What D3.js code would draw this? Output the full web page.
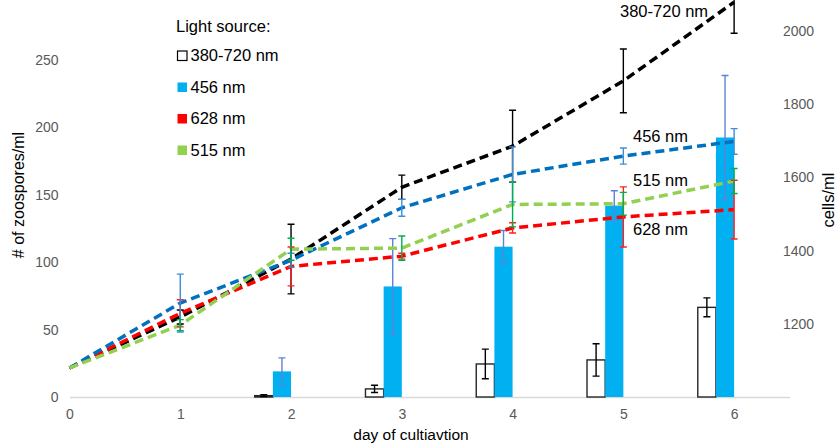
<!DOCTYPE html>
<html>
<head>
<meta charset="utf-8">
<script src="https://cdn.jsdelivr.net/npm/d3@7"></script>
<style>
  html, body { margin: 0; padding: 0; background: #fff; }
  svg { display: block; font-family: "Liberation Sans", Arial, sans-serif; }
</style>
</head>
<body>
<svg id="chart" width="838" height="444"></svg>
<script>
// ---------- data ----------
const days = [0, 1, 2, 3, 4, 5, 6];
const seriesNames = ["380-720 nm", "456 nm", "628 nm", "515 nm"];

// cells/ml (right axis), dashed lines
const cellsBroad   = [1080, 1219, 1377, 1573, 1685, 1863, 2078];
const cellsBroadErr= [null, 19, 95, 33, 98, 87, 85];
const cells456     = [1080, 1257, 1374, 1517, 1608, 1658, 1698];
const cells456Err  = [null, 79, 19, 23, 75, 22, 35];
const cells628     = [1080, 1229, 1357, 1385, 1462, 1492, 1512];
const cells628Err  = [null, 37, 53, 8, 14, 82, 80];
const cells515     = [1080, 1197, 1404, 1407, 1526, 1528, 1590];
const cells515Err  = [null, 15, 30, 33, 61, 31, 34];

// # of zoospores/ml (left axis), bars
const zooBroad     = [null, null, 1, 6, 24.5, 27.5, 66.5];
const zooBroadErr  = [null, null, 0.7, 2.7, 11, 12, 7];
const zoo456       = [null, null, 19, 82, 111.5, 142, 192.5];
const zoo456Err    = [null, null, 10, 35.5, 12, 11, 46];

const leftTicks  = [0, 50, 100, 150, 200, 250];
const rightTicks = [1200, 1400, 1600, 1800, 2000];

// ---------- layout ----------
const svg = d3.select("#chart");
const x  = d3.scaleLinear().domain([0, 6.5]).range([69.5, 789.5]);
const yL = d3.scaleLinear().domain([0, 250]).range([397, 60]);
const yR = d3.scaleLinear().domain([1000, 2000]).range([397.3, 30.7]);
const barW = x(0.164) - x(0);
const capW = 3.5;
const fmt = d3.format("d");

// axes
const gL = svg.append("g").attr("transform", `translate(${x(0)},0)`)
  .call(d3.axisLeft(yL).tickValues(leftTicks).tickFormat(fmt).tickSize(0).tickPadding(11));
const gR = svg.append("g").attr("transform", `translate(783,0)`)
  .call(d3.axisRight(yR).tickValues(rightTicks).tickFormat(fmt).tickSize(0).tickPadding(0));
const gB = svg.append("g").attr("transform", `translate(0,${yL(0)})`)
  .call(d3.axisBottom(x).tickValues(days).tickFormat(fmt).tickSize(0).tickPadding(12));
[gL, gR].forEach(g => g.select(".domain").remove());
gB.select(".domain").attr("stroke", "#d9d9d9").attr("stroke-width", 1.5);
[gL, gR, gB].forEach(g => g.selectAll("text")
  .attr("fill", "#595959").style("font-size", "14px")
  .style("font-family", "'Liberation Sans', Arial, sans-serif"));

// axis titles
svg.append("text").attr("transform", `translate(24,195) rotate(-90)`)
  .attr("text-anchor", "middle").style("font-size", "16px").attr("fill", "#000")
  .text("# of zoospores/ml");
svg.append("text").attr("transform", `translate(834,200) rotate(-90)`)
  .attr("text-anchor", "middle").style("font-size", "16.5px").attr("fill", "#000")
  .text("cells/ml");
svg.append("text").attr("x", 411).attr("y", 440)
  .attr("text-anchor", "middle").style("font-size", "15.5px").attr("fill", "#000")
  .text("day of cultiavtion");

// ---------- bars ----------
const bars = [
  { vals: zooBroad, errs: zooBroadErr, off: -2, fill: "#fff", stroke: "#262626", ecol: "#000" },
  { vals: zoo456,   errs: zoo456Err,   off: -1, fill: "#00b0f0", stroke: "none", ecol: "#5b83d6" }
];
bars.forEach(b => {
  const data = days.map((d, i) => ({ d, v: b.vals[i], e: b.errs[i] })).filter(o => o.v != null);
  svg.append("g").selectAll("rect").data(data).join("rect")
    .attr("x", o => x(o.d) + b.off * barW)
    .attr("width", barW)
    .attr("y", o => yL(o.v))
    .attr("height", o => yL(0) - yL(o.v))
    .attr("fill", b.fill)
    .attr("stroke", b.stroke)
    .attr("stroke-width", 1.4);
  const eg = svg.append("g").attr("stroke", b.ecol).attr("stroke-width", 1.4).attr("fill", "none");
  data.forEach(o => {
    const cx = x(o.d) + (b.off + 0.5) * barW;
    const y1 = yL(o.v + o.e), y2 = yL(o.v - o.e);
    eg.append("path").attr("d",
      `M${cx},${y1}V${y2}M${cx - capW},${y1}H${cx + capW}M${cx - capW},${y2}H${cx + capW}`);
  });
});

// ---------- lines ----------
const lines = [
  { vals: cellsBroad, errs: cellsBroadErr, col: "#000000", ecol: "#000000" },
  { vals: cells628,   errs: cells628Err,   col: "#ff0000", ecol: "#ff2020" },
  { vals: cells456,   errs: cells456Err,   col: "#0070c0", ecol: "#3d8ed6" },
  { vals: cells515,   errs: cells515Err,   col: "#92d050", ecol: "#00b050" }
];
const lineGen = d3.line().x(o => x(o.d)).y(o => yR(o.v));
lines.forEach(l => {
  const data = days.map((d, i) => ({ d, v: l.vals[i], e: l.errs[i] }));
  svg.append("path").datum(data)
    .attr("d", lineGen)
    .attr("fill", "none")
    .attr("stroke", l.col)
    .attr("stroke-width", 3.5)
    .attr("stroke-dasharray", "9,5");
});
lines.forEach(l => {
  const eg = svg.append("g").attr("stroke", l.ecol).attr("stroke-width", 1.4).attr("fill", "none");
  days.forEach((d, i) => {
    if (l.errs[i] == null) return;
    const cx = x(d);
    const y1 = yR(l.vals[i] + l.errs[i]), y2 = yR(l.vals[i] - l.errs[i]);
    eg.append("path").attr("d",
      `M${cx},${y1}V${y2}M${cx - capW},${y1}H${cx + capW}M${cx - capW},${y2}H${cx + capW}`);
  });
});

// ---------- line labels ----------
const lineLabels = [
  { t: seriesNames[0], x: 620, y: 17 },
  { t: seriesNames[1], x: 633, y: 142 },
  { t: seriesNames[3], x: 633, y: 186 },
  { t: seriesNames[2], x: 633, y: 235 }
];
svg.append("g").selectAll("text").data(lineLabels).join("text")
  .attr("x", o => o.x).attr("y", o => o.y)
  .style("font-size", "16.5px").attr("fill", "#000")
  .text(o => o.t);

// ---------- legend ----------
const lg = svg.append("g");
lg.append("text").attr("x", 176).attr("y", 32).style("font-size", "16.5px").text("Light source:");
const legendItems = [
  { t: seriesNames[0], fill: "#fff", stroke: "#000" },
  { t: seriesNames[1], fill: "#00b0f0", stroke: "none" },
  { t: seriesNames[2], fill: "#ff0000", stroke: "none" },
  { t: seriesNames[3], fill: "#92d050", stroke: "none" }
];
legendItems.forEach((it, i) => {
  const by = 61 + i * 31.5;
  lg.append("rect").attr("x", 177.5).attr("y", by - 10).attr("width", 9.5).attr("height", 9.5)
    .attr("fill", it.fill).attr("stroke", it.stroke).attr("stroke-width", 1.2);
  lg.append("text").attr("x", 190.5).attr("y", by).style("font-size", "16.5px").text(it.t);
});
</script>
</body>
</html>
